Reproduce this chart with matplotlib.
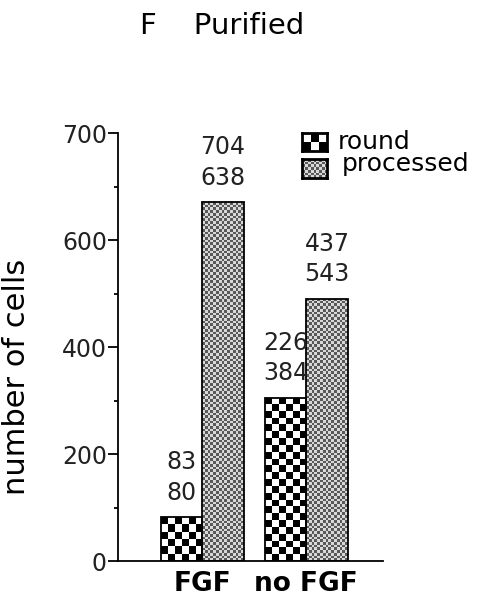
import numpy as np
import matplotlib.pyplot as plt

# counts from the two experiments, bar = mean of both
groups = ["FGF", "no FGF"]
round_counts = [[83, 80], [226, 384]]
processed_counts = [[704, 638], [437, 543]]
series = ["round", "processed"]

y_ticks = [0, 200, 400, 600, 800]
y_tick_labels = ["0", "200", "400", "600", "700"]

plt.rcParams['font.family'] = ['DejaVu Sans']

fig = plt.figure(figsize=(4.85, 6.12), dpi=100)
ax = fig.add_axes([0.2433, 0.0833, 0.5464, 0.6993])
ax.set_xlim(-0.81, 1.74)
ax.set_ylim(0, 800)


def checker(ny, nx):
    return np.indices((ny, nx)).sum(0) % 2


def pattern_rgb(ny, nx, dark, light):
    c = checker(ny, nx)[..., None]
    return np.where(c == 1, np.array(light), np.array(dark))


def px_per_unit_y():
    return ax.transData.transform((0, 1))[1] - ax.transData.transform((0, 0))[1]


def px_per_unit_x():
    return ax.transData.transform((1, 0))[0] - ax.transData.transform((0, 0))[0]


x = np.arange(len(groups))
w = 0.4
round_means = [np.mean(v) for v in round_counts]
proc_means = [np.mean(v) for v in processed_counts]

bars_r = ax.bar(x - w / 2, round_means, w, facecolor='none', edgecolor='black',
                linewidth=1.3, zorder=3)
bars_p = ax.bar(x + w / 2, proc_means, w, facecolor='none', edgecolor='black',
                linewidth=1.3, zorder=3)

sy = px_per_unit_y()
sx = px_per_unit_x()

# checkerboard fill for "round"
for b in bars_r:
    x0, bw, h = b.get_x(), b.get_width(), b.get_height()
    nx = 6
    ny = max(1, int(round(h * sy / (bw * sx / nx))))
    img = ax.imshow(checker(ny, nx)[::-1], cmap='gray', vmin=0, vmax=1,
                    extent=(x0, x0 + bw, 0, h), origin='lower',
                    interpolation='nearest', aspect='auto', zorder=2)
    img.set_clip_path(b)

# fine grey dither for "processed"
for b in bars_p:
    x0, bw, h = b.get_x(), b.get_width(), b.get_height()
    nx = int(round(bw * sx / 2.7))
    ny = int(round(h * sy / 2.7))
    img = ax.imshow(pattern_rgb(ny, nx, (0.35, 0.35, 0.35), (0.85, 0.85, 0.85)),
                    extent=(x0, x0 + bw, 0, h), origin='lower',
                    interpolation='nearest', aspect='auto', zorder=2)
    img.set_clip_path(b)

ax.set_xlim(-0.81, 1.74)
ax.set_ylim(0, 800)

# value labels above the bars
for b, vals in list(zip(bars_r, round_counts)) + list(zip(bars_p, processed_counts)):
    ax.annotate("%d\n%d" % (vals[0], vals[1]),
                (b.get_x() + b.get_width() / 2, b.get_height()),
                xytext=(0, 9), textcoords='offset points',
                ha='center', va='bottom', fontsize=17, linespacing=1.35,
                color='#222222')

# axes styling
for s in ['top', 'right']:
    ax.spines[s].set_visible(False)
ax.spines['left'].set_linewidth(1.3)
ax.spines['bottom'].set_linewidth(1.3)

ax.set_yticks(y_ticks)
ax.set_yticklabels(y_tick_labels, fontsize=17, color='#222222')
ax.set_yticks(np.arange(100, 800, 200), minor=True)
ax.tick_params(axis='y', which='major', length=7, width=1.3, pad=1)
ax.tick_params(axis='y', which='minor', length=3, width=1.3)

ax.set_xticks(x)
ax.set_xticklabels(groups, fontsize=19, fontweight='bold')
ax.tick_params(axis='x', length=0, pad=7)

ax.set_ylabel("number of cells", fontsize=22)
ax.yaxis.set_label_coords(-0.33, 0.43)

fig.text(140 / 485, 1 - 26 / 612, "F    Purified", fontsize=21,
         ha='left', va='center')

# legend swatches
sw_r = ax.inset_axes([(302 - 118) / 265, (561 - 151) / 428, 25 / 265, 18 / 428])
sw_r.imshow(checker(2, 3)[::-1], cmap='gray', vmin=0, vmax=1,
            interpolation='nearest', aspect='auto')
sw_p = ax.inset_axes([(302 - 118) / 265, (561 - 178) / 428, 25 / 265, 19 / 428])
sw_p.imshow(pattern_rgb(7, 9, (0.35, 0.35, 0.35), (0.85, 0.85, 0.85)),
            interpolation='nearest', aspect='auto')
for sw in (sw_r, sw_p):
    sw.set_xticks([])
    sw.set_yticks([])
    for sp in sw.spines.values():
        sp.set_linewidth(2)

ax.text((338 - 118) / 265, (561 - 142) / 428, series[0], transform=ax.transAxes,
        fontsize=18, ha='left', va='center')
ax.text((342 - 118) / 265, (561 - 164) / 428, series[1], transform=ax.transAxes,
        fontsize=18, ha='left', va='center')

fig.savefig("out.png", dpi=100)
